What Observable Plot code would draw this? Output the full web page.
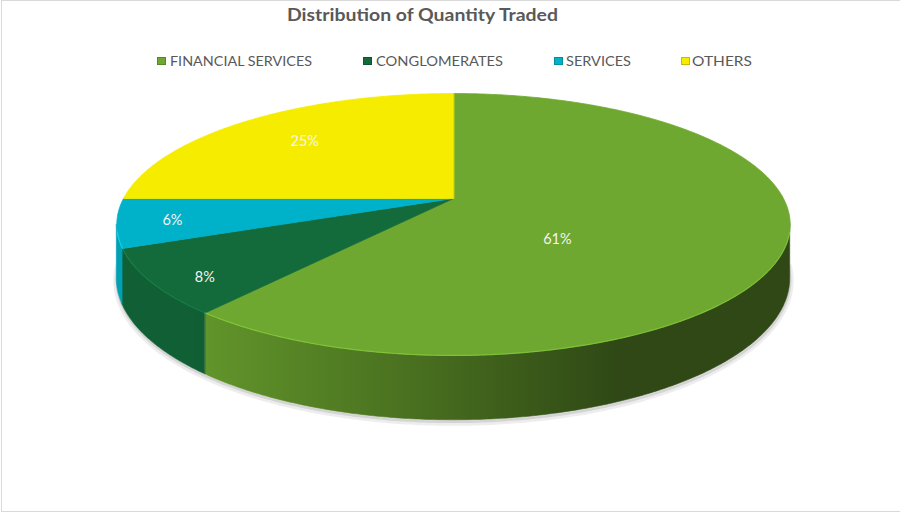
<!DOCTYPE html>
<html>
<head>
<meta charset="utf-8">
<script src="https://cdn.jsdelivr.net/npm/d3@7"></script>
<script src="https://cdn.jsdelivr.net/npm/@observablehq/plot@0.6"></script>
<style>
  html, body { margin: 0; padding: 0; background: #fff; }
  #wrap { position: relative; width: 900px; height: 512px; overflow: hidden; font-family: Lato, "Open Sans", sans-serif; }
  #frame { position: absolute; left: 1px; top: 0; width: 905px; height: 510px; border: 1px solid #d9d9d9; pointer-events: none; }
  #title { position: relative; height: 40px; }
  #legend { position: relative; height: 35px; }
  .t { position: absolute; white-space: nowrap; color: #595959; transform-origin: 0 50%; }
  .sw { position: absolute; width: 9px; height: 8px; box-sizing: border-box; }
  svg { display: block; }
</style>
</head>
<body>
<div id="wrap">
  <div id="title"></div>
  <div id="legend"></div>
  <div id="chart"></div>
  <div id="frame"></div>
</div>
<script>
// ---- data ----
const title = "Distribution of Quantity Traded";
const categories = ["FINANCIAL SERVICES", "CONGLOMERATES", "SERVICES", "OTHERS"];
const shares = [61, 8, 6, 25];
const labels = ["61%", "8%", "6%", "25%"];

// ---- style / layout ----
const palette = ["#6ea830", "#136a3b", "#00b2c9", "#f5ec00"];
const G = {cx: 453, cy: 198, a: 330, b: 125.8, k: 0.1985, h: 52};
const top0 = 75; // page y where the svg starts

function proj(theta, f, z) {
  const X = f * Math.sin(theta), Y = -f * Math.cos(theta);
  const w = 1 - G.k * Y;
  return {x: G.cx + G.a * X / w, y: G.cy + (G.b * Y + z) / w, Y, w};
}
function shade(c, f) {
  const r = d3.rgb(c);
  return d3.rgb(r.r * f, r.g * f, r.b * f).formatHex();
}

const total = d3.sum(shares);
let acc = 0;
const slices = categories.map((c, i) => {
  const s = acc / total * 2 * Math.PI;
  acc += shares[i];
  const e = acc / total * 2 * Math.PI;
  return {cat: c, i, s, e, v: shares[i], label: labels[i], col: palette[i]};
});

const step = Math.PI / 360;
// top faces
const tops = slices.map(sl => {
  const pts = [proj(0, 0, 0)];
  const n = Math.max(2, Math.ceil((sl.e - sl.s) / step));
  for (let j = 0; j <= n; j++) pts.push(proj(sl.s + (sl.e - sl.s) * j / n, 1, 0));
  return {sl, pts};
});
// visible side range (between silhouette tangents)
const tA = Math.acos(-G.k), tB = 2 * Math.PI - Math.acos(-G.k);
const sides = slices.map(sl => {
  const a = Math.max(sl.s, tA), b = Math.min(sl.e, tB);
  if (b <= a) return null;
  const n = Math.max(2, Math.ceil((b - a) / step));
  const rows = [];
  for (let j = 0; j <= n; j++) {
    const t = a + (b - a) * j / n;
    const p = proj(t, 1, 0), q = proj(t, 1, G.h);
    rows.push({x: p.x, yt: p.y, yb: q.y});
  }
  return {sl, rows};
}).filter(Boolean);

// front top edges (highlight) and bottom outline (shadow)
const edgeRows = [], shadowRows = [];
slices.forEach(sl => {
  const n = Math.ceil((sl.e - sl.s) / step);
  for (let j = 0; j <= n; j++) {
    const t = sl.s + (sl.e - sl.s) * j / n;
    const p = proj(t, 1, 0);
    if (p.Y > 0.25) edgeRows.push({cat: sl.cat, x: p.x, y: p.y, col: d3.rgb(sl.col).brighter(0.7).formatHex()});
    const q = proj(t, 1, G.h);
    if (q.Y > 0.1) shadowRows.push({x: q.x, y: q.y, t});
  }
});
shadowRows.sort((p, q) => p.t - q.t);

// data labels
const labelRows = slices.map(sl => {
  const frac = sl.v / total, mid = (sl.s + sl.e) / 2, ang = sl.e - sl.s;
  if (frac > 0.5) {
    const r = 4 * Math.sin(ang / 2) / (3 * ang);
    const p = proj(mid, r, G.h / 2);
    return {x: p.x, y: p.y, text: sl.label};
  }
  if (frac < 0.1) {
    const Ym = Math.max(0, -Math.cos(mid));
    const p = proj(mid, 0.84, G.h / 2 * Ym * Ym);
    return {x: p.x, y: p.y, text: sl.label};
  }
  const p = proj(mid, 0.7, 0);
  return {x: p.x, y: p.y, text: sl.label};
});

// gradient definitions for the side walls (lighter on the left, darker on the right)
function defsMark() {
  const defs = d3.create("svg:defs");
  slices.forEach(sl => {
    const g = defs.append("linearGradient")
      .attr("id", "side" + sl.i)
      .attr("gradientUnits", "userSpaceOnUse")
      .attr("x1", 190).attr("x2", 620).attr("y1", 0).attr("y2", 0);
    g.append("stop").attr("offset", 0).attr("stop-color", shade(sl.col, 0.9));
    g.append("stop").attr("offset", 0.5).attr("stop-color", shade(sl.col, 0.67));
    g.append("stop").attr("offset", 1).attr("stop-color", shade(sl.col, 0.43));
  });
  return defs.node();
}

const marks = [
  defsMark,
  Plot.line(shadowRows, {x: "x", y: "y", stroke: "#000", strokeOpacity: 0.07, strokeWidth: 7, dy: 2}),
  Plot.line(shadowRows, {x: "x", y: "y", stroke: "#000", strokeOpacity: 0.1, strokeWidth: 2.5, dy: 1.5}),
  ...sides.map(sd => Plot.areaY(sd.rows, {x: "x", y1: "yt", y2: "yb", fill: `url(#side${sd.sl.i})`, stroke: `url(#side${sd.sl.i})`, strokeWidth: 0.6})),
  ...tops.map(tp => Plot.line(tp.pts, {x: "x", y: "y", fill: tp.sl.col, stroke: tp.sl.col, strokeWidth: 0.8, curve: "linear-closed"})),
  Plot.line(edgeRows, {x: "x", y: "y", z: "cat", stroke: "col", strokeWidth: 1.2, strokeOpacity: 0.6}),
  Plot.text(labelRows, {x: "x", y: "y", text: "text", fill: "#f4f4f4", fontSize: 14.5, fontFamily: "Lato, sans-serif"})
];

const chart = Plot.plot({
  width: 900, height: 512 - top0, margin: 0,
  x: {domain: [0, 900], range: [0, 900], axis: null},
  y: {domain: [top0, 512], range: [0, 512 - top0], axis: null},
  color: {type: "identity"},
  marks
});
document.getElementById("chart").appendChild(chart);

// title & legend (HTML)
function addText(parent, txt, left, cy, size, weight, target) {
  const el = document.createElement("div");
  el.className = "t";
  el.textContent = txt;
  el.style.left = left + "px";
  el.style.fontSize = size + "px";
  el.style.fontWeight = weight;
  el.style.lineHeight = size + "px";
  el.style.top = (cy - size / 2) + "px";
  parent.appendChild(el);
  const w = el.getBoundingClientRect().width;
  if (target && w > 0) el.style.transform = `scaleX(${target / w})`;
  return el;
}
addText(document.getElementById("title"), title, 287, 15, 16.5, 700, 271);
const legend = document.getElementById("legend");
const swX = [157, 363, 554, 681];
const txX = [170, 376, 566, 692];
const txW = [142, 127, 65, 60];
categories.forEach((c, i) => {
  const sw = document.createElement("div");
  sw.className = "sw";
  sw.style.left = swX[i] + "px";
  sw.style.top = "17px";
  sw.style.background = palette[i];
  sw.style.border = "1px solid " + shade(palette[i], 0.8);
  legend.appendChild(sw);
  addText(legend, c, txX[i], 21, 13, 400, txW[i]);
});
</script>
</body>
</html>
